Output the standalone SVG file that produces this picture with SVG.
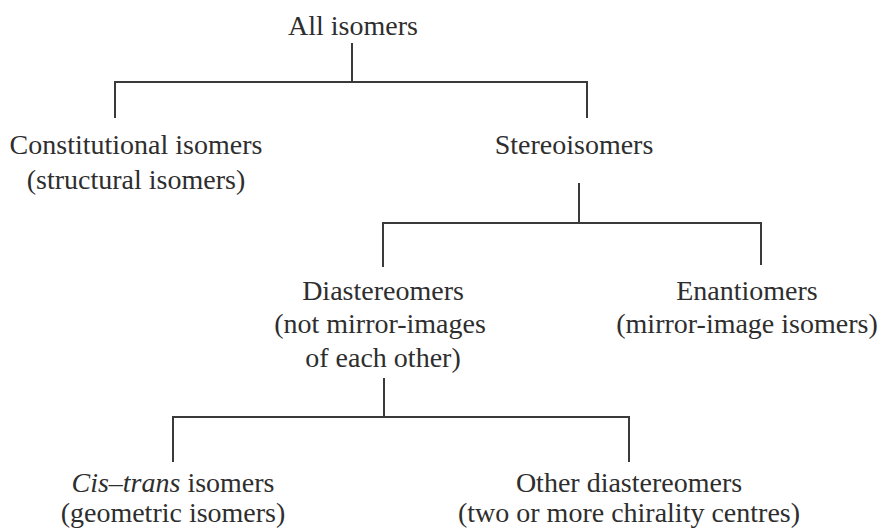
<svg xmlns="http://www.w3.org/2000/svg" width="881" height="531" viewBox="0 0 881 531">
<style>
text{font-family:"Liberation Serif","Times New Roman",serif;font-size:28px;fill:#2e2e2e;text-anchor:middle}
.c{stroke:#3a3a3a;stroke-width:2;fill:none}
</style>
<rect width="881" height="531" fill="#fff"/>
<g id="connectors">
<path class="c" d="M352 43V82M115 82H588M115 81V118M587 81V118"/>
<path class="c" d="M579 183V223M383 223H761M383 222V267M761 222V265"/>
<path class="c" d="M384 378V417M173 417H629M173 416V462M629 416V462"/>
</g>
<g id="all"><text x="353" y="35">All isomers</text></g>
<g id="constitutional"><text x="136" y="154">Constitutional isomers</text><text x="136" y="189">(structural isomers)</text></g>
<g id="stereo"><text x="574" y="154">Stereoisomers</text></g>
<g id="diastereomers"><text x="383" y="300">Diastereomers</text><text x="380" y="333">(not mirror-images</text><text x="383" y="367">of each other)</text></g>
<g id="enantiomers"><text x="747" y="300">Enantiomers</text><text x="747" y="333">(mirror-image isomers)</text></g>
<g id="cistrans"><text x="173" y="492"><tspan font-style="italic">Cis–trans</tspan> isomers</text><text x="173" y="522">(geometric isomers)</text></g>
<g id="other"><text x="629" y="492">Other diastereomers</text><text x="629" y="522">(two or more chirality centres)</text></g>
</svg>
